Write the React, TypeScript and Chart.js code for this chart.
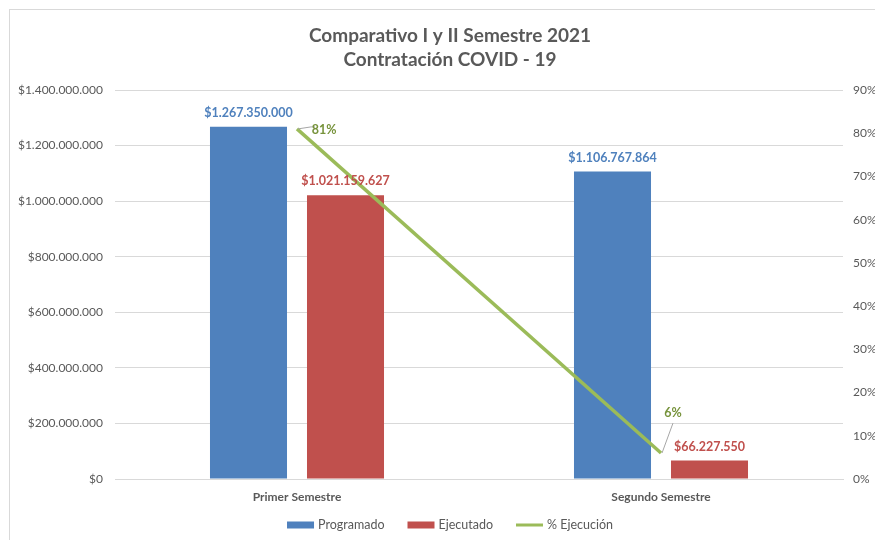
import React, { useEffect, useRef } from "react";
import { Chart, registerables } from "chart.js";

Chart.register(...registerables);

const categories = ["Primer Semestre", "Segundo Semestre"];
const programado = [1267350000, 1106767864];
const ejecutado = [1021159627, 66227550];
const ejecucionPct = [81, 6];
const titleLines = ["Comparativo I y II Semestre 2021", "Contratación COVID - 19"];
const seriesNames = ["Programado", "Ejecutado", "% Ejecución"];

const BLUE = "#4f81bd";
const RED = "#c0504d";
const GREEN = "#9bbb59";
const GREEN_TEXT = "#77933c";
const GREY_TEXT = "#595959";
const GRID = "#d9d9d9";
const FONT = "Lato, 'Open Sans', sans-serif";

const fmtMoney = (v: number) =>
  "$" + Math.round(v).toString().replace(/\B(?=(\d{3})+(?!\d))/g, ".");

const overlayPlugin = {
  id: "overlay",
  afterDraw(chart: any) {
    const ctx = chart.ctx;
    const w = chart.width;
    ctx.save();
    // title
    ctx.fillStyle = GREY_TEXT;
    ctx.font = `bold 19px ${FONT}`;
    ctx.textAlign = "center";
    ctx.textBaseline = "middle";
    ctx.fillText(titleLines[0], w / 2, 26);
    ctx.fillText(titleLines[1], w / 2, 50);

    // bar labels
    ctx.font = `bold 12.5px ${FONT}`;
    ctx.textBaseline = "middle";
    [0, 1].forEach((di) => {
      const meta = chart.getDatasetMeta(di);
      const data = chart.data.datasets[di].data;
      ctx.fillStyle = di === 0 ? BLUE : RED;
      meta.data.forEach((el: any, i: number) => {
        ctx.fillText(fmtMoney(data[i]), el.x, el.y - 14);
      });
    });

    // percent labels with leader lines
    const lm = chart.getDatasetMeta(2);
    const offsets = [
      { dx: 27, dy: 1, lx: 14, ly: -2 },
      { dx: 12, dy: -40, lx: 12, ly: -30 },
    ];
    lm.data.forEach((pt: any, i: number) => {
      const o = offsets[i];
      ctx.strokeStyle = "#a6a6a6";
      ctx.lineWidth = 1;
      ctx.beginPath();
      ctx.moveTo(pt.x + 1, pt.y);
      ctx.lineTo(pt.x + o.lx, pt.y + o.ly);
      if (i === 0) ctx.lineTo(pt.x + o.lx + 4, pt.y + o.ly);
      ctx.stroke();
      ctx.fillStyle = GREEN_TEXT;
      ctx.font = `bold 12.5px ${FONT}`;
      ctx.textAlign = "center";
      ctx.fillText(ejecucionPct[i] + "%", pt.x + o.dx, pt.y + o.dy);
    });

    // legend
    ctx.font = `12.5px ${FONT}`;
    ctx.textBaseline = "middle";
    ctx.textAlign = "left";
    const boxW = 27;
    const gapIn = 4;
    const gapOut = 23;
    const widths = seriesNames.map((s) => ctx.measureText(s).width);
    const total = widths.reduce((a, b) => a + b, 0) + 3 * (boxW + gapIn) + 2 * gapOut;
    let x = w / 2 - total / 2;
    const y = 515;
    const colors = [BLUE, RED, GREEN];
    seriesNames.forEach((s, i) => {
      if (i < 2) {
        ctx.fillStyle = colors[i];
        ctx.fillRect(x, y - 3.5, boxW, 7);
      } else {
        ctx.strokeStyle = colors[i];
        ctx.lineWidth = 3;
        ctx.beginPath();
        ctx.moveTo(x, y);
        ctx.lineTo(x + boxW, y);
        ctx.stroke();
      }
      ctx.fillStyle = GREY_TEXT;
      ctx.fillText(s, x + boxW + gapIn, y);
      x += boxW + gapIn + widths[i] + gapOut;
    });
    ctx.restore();
  },
};

function App() {
  const ref = useRef<HTMLCanvasElement | null>(null);
  useEffect(() => {
    if (!ref.current) return;
    const chart = new Chart(ref.current, {
      type: "bar",
      data: {
        labels: categories,
        datasets: [
          {
            type: "bar",
            label: seriesNames[0],
            data: programado,
            backgroundColor: BLUE,
            yAxisID: "y",
            categoryPercentage: 0.533,
            barPercentage: 0.794,
            order: 2,
          },
          {
            type: "bar",
            label: seriesNames[1],
            data: ejecutado,
            backgroundColor: RED,
            yAxisID: "y",
            categoryPercentage: 0.533,
            barPercentage: 0.794,
            order: 2,
          },
          {
            type: "line",
            label: seriesNames[2],
            data: ejecucionPct,
            borderColor: GREEN,
            backgroundColor: GREEN,
            borderWidth: 3.5,
            pointRadius: 0,
            yAxisID: "y1",
            order: 1,
          } as any,
        ],
      },
      options: {
        animation: false,
        responsive: false,
        layout: { padding: { top: 80, bottom: 31, left: 0, right: 0 } },
        plugins: {
          legend: { display: false },
          title: { display: false },
          tooltip: { enabled: false },
        },
        scales: {
          x: {
            grid: { display: false },
            border: { color: GRID, width: 1 },
            ticks: {
              color: GREY_TEXT,
              font: { family: FONT, size: 12, weight: "bold" },
              padding: 3,
            },
            afterFit: (s: any) => {
              s.height = 30;
            },
          },
          y: {
            position: "left",
            min: 0,
            max: 1400000000,
            ticks: {
              stepSize: 200000000,
              color: GREY_TEXT,
              font: { family: FONT, size: 12 },
              padding: 12,
              callback: (v: any) => fmtMoney(Number(v)),
            },
            grid: { color: GRID, drawTicks: false },
            border: { display: false },
            afterFit: (s: any) => {
              s.width = 105;
            },
          },
          y1: {
            position: "right",
            min: 0,
            max: 90,
            ticks: {
              stepSize: 10,
              color: GREY_TEXT,
              font: { family: FONT, size: 12 },
              padding: 10,
              callback: (v: any) => v + "%",
            },
            grid: { display: false, drawTicks: false },
            border: { display: false },
            afterFit: (s: any) => {
              s.width = 47;
            },
          },
        },
      },
      plugins: [overlayPlugin],
    });
    return () => chart.destroy();
  }, []);

  return (
    <div
      style={{
        position: "fixed",
        left: 0,
        top: 0,
        width: 875,
        height: 540,
        overflow: "hidden",
        background: "#fff",
      }}
    >
      <div
        style={{
          position: "absolute",
          left: 9,
          top: 9,
          borderLeft: `1px solid ${GRID}`,
          borderTop: `1px solid ${GRID}`,
          width: 880,
          height: 530,
        }}
      >
        <canvas ref={ref} width={880} height={530} style={{ display: "block" }} />
      </div>
    </div>
  );
}

export default App;
